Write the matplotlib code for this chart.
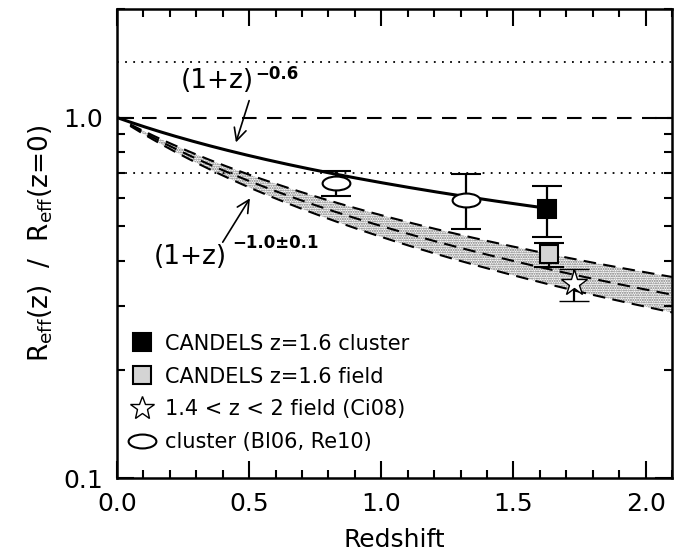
import numpy as np
import matplotlib
matplotlib.use('Agg')
from matplotlib import pyplot as plt
from matplotlib.path import Path
from matplotlib.transforms import Affine2D
from matplotlib.lines import Line2D
from matplotlib.ticker import MultipleLocator, FixedLocator, NullFormatter

clus_z, clus_r = [0.83, 1.32], [0.66, 0.59]
clus_lo, clus_hi = [0.605, 0.49], [0.709, 0.695]
cand_clus = dict(z=1.627, r=0.556, lo=0.465, hi=0.644)
cand_field = dict(z=1.635, r=0.417, lo=0.384, hi=0.448)
ci08 = dict(z=1.73, r=0.347, lo=0.309, hi=0.379)

slope_clus = -0.6
slope_field = [-0.9, -1.0, -1.1]
scatter_lines = [0.7, 1 / 0.7]

plt.rcParams['hatch.linewidth'] = 1.0
plt.rcParams['mathtext.fontset'] = 'dejavusans'

fig = plt.figure(figsize=(6.83, 5.57), dpi=100)
ax = fig.add_axes([0.1713, 0.1418, 0.8126, 0.842])
ax.set_yscale('log')
ax.set_xlim(0, 2.1)
ax.set_ylim(0.1, 2.0)

# reference lines
ax.axhline(1.0, color='k', ls=(0, (7, 5)), lw=1.5)
for y in scatter_lines:
    ax.axhline(y, color='k', ls=(0, (1, 3.5)), lw=1.3)

# field band (1+z)^(-1.0 +/- 0.1)
zz = np.linspace(0.05, 2.1, 200)
ax.fill_between(zz, (1 + zz) ** slope_field[2], (1 + zz) ** slope_field[0],
                facecolor='none', edgecolor='0.45', hatch='.......', lw=0, zorder=1)
for s in slope_field:
    ax.plot(zz, (1 + zz) ** s, color='k', ls=(0, (6, 3.5)), lw=1.5, zorder=2)

# cluster relation
zc = np.linspace(0, cand_clus['z'], 200)
ax.plot(zc, (1 + zc) ** slope_clus, color='k', lw=2.2, zorder=2)

ellipse = Path.unit_circle().transformed(Affine2D().scale(1.0, 0.5))

ebkw = dict(ecolor='k', elinewidth=1.6, capsize=11, capthick=1.6, ls='none')
ax.errorbar(clus_z, clus_r,
            yerr=[np.array(clus_r) - np.array(clus_lo), np.array(clus_hi) - np.array(clus_r)],
            marker=ellipse, ms=20, mfc='white', mec='k', mew=1.5, zorder=5, **ebkw)
for p, fc, mk, ms in [(cand_clus, 'k', 's', 13), (cand_field, '0.83', 's', 13),
                      (ci08, 'white', '*', 20)]:
    ax.errorbar([p['z']], [p['r']], yerr=[[p['r'] - p['lo']], [p['hi'] - p['r']]],
                marker=mk, ms=ms, mfc=fc, mec='k', mew=1.5 if mk == 's' else 1.0,
                zorder=5, **ebkw)

# annotations
arrow = dict(arrowstyle='->', color='k', lw=1.2, mutation_scale=22, shrinkA=0, shrinkB=0)
ax.annotate('', xy=(0.45, 0.853), xytext=(0.50, 1.114), arrowprops=arrow)
ax.text(0.24, 1.26, '(1+z)', fontsize=19, ha='left', va='center')
ax.text(0.525, 1.32, '\u22120.6', fontsize=12, fontweight='bold', ha='left', va='center')
ax.annotate('', xy=(0.503, 0.597), xytext=(0.40, 0.451), arrowprops=arrow)
ax.text(0.14, 0.41, '(1+z)', fontsize=19, ha='left', va='center')
ax.text(0.435, 0.45, '\u22121.0\u00b10.1', fontsize=12, fontweight='bold', ha='left', va='center')

# legend
handles = [
    Line2D([], [], ls='none', marker='s', ms=13, mfc='k', mec='k', mew=1.5),
    Line2D([], [], ls='none', marker='s', ms=13, mfc='0.83', mec='k', mew=1.5),
    Line2D([], [], ls='none', marker='*', ms=18, mfc='white', mec='k', mew=1.0),
    Line2D([], [], ls='none', marker=ellipse, ms=20, mfc='white', mec='k', mew=1.5),
]
labels = ['CANDELS z=1.6 cluster', 'CANDELS z=1.6 field',
          '1.4 < z < 2 field (Ci08)', 'cluster (Bl06, Re10)']
ax.legend(handles, labels, loc='lower left', frameon=False, fontsize=15,
          handlelength=1.2, handletextpad=0.5, labelspacing=0.62,
          borderaxespad=0.2, bbox_to_anchor=(0.0, 0.028))

# axes, ticks
ax.xaxis.set_major_locator(MultipleLocator(0.5))
ax.xaxis.set_minor_locator(MultipleLocator(0.1))
ax.xaxis.set_major_formatter(plt.FuncFormatter(lambda v, p: f'{v:.1f}'))
ax.yaxis.set_major_locator(FixedLocator([0.1, 1.0]))
ax.yaxis.set_major_formatter(plt.FuncFormatter(lambda v, p: f'{v:.1f}'))
ax.yaxis.set_minor_locator(FixedLocator([0.2, 0.3, 0.4, 0.5, 0.6, 0.7, 0.8, 0.9, 2.0]))
ax.yaxis.set_minor_formatter(NullFormatter())
ax.tick_params(which='both', direction='in', top=True, right=True, width=1.5, labelsize=18)
ax.tick_params(which='major', length=12, pad=10)
ax.tick_params(which='minor', length=6)
for sp in ax.spines.values():
    sp.set_linewidth(1.8)

ax.set_xlabel('Redshift', fontsize=18, labelpad=9)
ax.set_ylabel(r'R$_{\rm eff}$(z)  /  R$_{\rm eff}$(z=0)', fontsize=19, labelpad=6)

fig.savefig('out.png', dpi=100)
